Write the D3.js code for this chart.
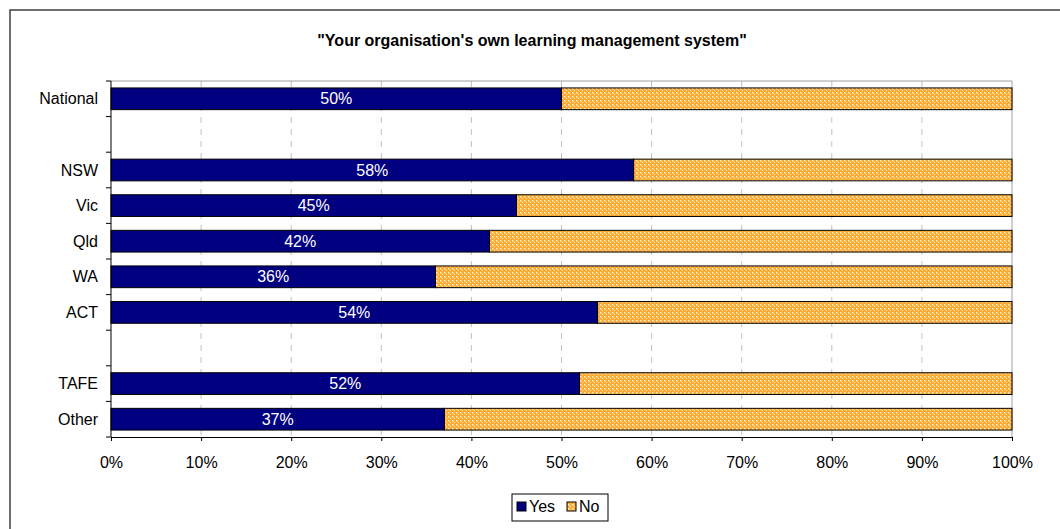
<!DOCTYPE html>
<html><head><meta charset="utf-8">
<script src="https://cdn.jsdelivr.net/npm/d3@7"></script>
<style>body{margin:0;background:#fff;} svg{display:block;font-family:"Liberation Sans",Arial,sans-serif;}</style>
</head><body>
<svg id="c" width="1060" height="529"></svg>
<script>
const categories = ["National", "", "NSW", "Vic", "Qld", "WA", "ACT", " ", "TAFE", "Other"];
const yesValues = [50, null, 58, 45, 42, 36, 54, null, 52, 37];
const xTicks = [0, 10, 20, 30, 40, 50, 60, 70, 80, 90, 100];
const title = "\"Your organisation's own learning management system\"";
const legendLabels = ["Yes", "No"];

const svg = d3.select("#c");
const defs = svg.append("defs");
const pat = defs.append("pattern").attr("id","nopat").attr("width",4).attr("height",4).attr("patternUnits","userSpaceOnUse");
pat.append("rect").attr("width",4).attr("height",4).attr("fill","#FFAA33");
pat.append("rect").attr("x",0).attr("y",0).attr("width",2).attr("height",2).attr("fill","#FFCC77");
pat.append("rect").attr("x",2).attr("y",2).attr("width",1).attr("height",1).attr("fill","#FFE8C0");
pat.append("rect").attr("x",0).attr("y",0).attr("width",1).attr("height",1).attr("fill","#FFF2DD");

// outer frame
svg.append("rect").attr("x",10).attr("y",10).attr("width",1070).attr("height",540)
  .attr("fill","none").attr("stroke","#404040").attr("stroke-width",1.5);

const L=111, R=1012, T=81, B=437;
const x = d3.scaleLinear().domain([0,100]).range([L,R]);
const y = d3.scaleBand().domain(categories).range([T,B]).paddingInner(0).paddingOuter(0);
const bh = y.bandwidth()*0.61;

svg.append("text").attr("x",532).attr("y",45.5).attr("text-anchor","middle")
  .attr("font-weight","bold").attr("font-size",16).text(title);

// gridlines
svg.append("g").selectAll("line").data(xTicks.slice(1,-1)).join("line")
  .attr("x1",d=>x(d)).attr("x2",d=>x(d)).attr("y1",T).attr("y2",B)
  .attr("stroke","#c0c0c0").attr("stroke-dasharray","6,6");
// plot border
svg.append("line").attr("x1",L).attr("x2",R).attr("y1",T).attr("y2",T).attr("stroke","#a0a0a0");
svg.append("line").attr("x1",R).attr("x2",R).attr("y1",T).attr("y2",B).attr("stroke","#a0a0a0");

const data = categories.map((c,i)=>({c, yes:yesValues[i]})).filter(d=>d.yes!=null);
const g = svg.append("g");
g.selectAll("rect.no").data(data).join("rect").attr("class","no")
  .attr("x",d=>x(d.yes)).attr("width",d=>x(100)-x(d.yes))
  .attr("y",d=>y(d.c)+(y.bandwidth()-bh)/2).attr("height",bh)
  .attr("fill","url(#nopat)").attr("stroke","#000").attr("stroke-width",1);
g.selectAll("rect.yes").data(data).join("rect").attr("class","yes")
  .attr("x",x(0)).attr("width",d=>x(d.yes)-x(0))
  .attr("y",d=>y(d.c)+(y.bandwidth()-bh)/2).attr("height",bh)
  .attr("fill","#000080").attr("stroke","#000").attr("stroke-width",1);
g.selectAll("text.lbl").data(data).join("text").attr("class","lbl")
  .attr("x",d=>(x(0)+x(d.yes))/2).attr("y",d=>y(d.c)+y.bandwidth()/2+5.5)
  .attr("text-anchor","middle").attr("fill","#fff").attr("font-size",16)
  .text(d=>d.yes+"%");

// axes
const xAxis = svg.append("g").attr("transform",`translate(0,${B})`)
  .call(d3.axisBottom(x).tickValues(xTicks).tickFormat(d=>d+"%").tickSize(4).tickSizeOuter(0));
xAxis.select(".domain").attr("stroke","#000");
xAxis.selectAll(".tick text").attr("font-size",16).attr("fill","#000").attr("y",30.5).attr("dy",null)
  .style("font-family","'Liberation Sans',Arial,sans-serif");

const yAxis = svg.append("g").attr("transform",`translate(${L},0)`);
yAxis.append("line").attr("x1",0).attr("x2",0).attr("y1",T).attr("y2",B).attr("stroke","#000");
const bounds = d3.range(categories.length+1).map(i=>T+i*y.step());
yAxis.selectAll("line.t").data(bounds).join("line").attr("class","t")
  .attr("x1",-5).attr("x2",0).attr("y1",d=>d).attr("y2",d=>d).attr("stroke","#000");
yAxis.selectAll("text").data(categories.filter(c=>c.trim()!=="")).join("text")
  .attr("x",-13).attr("y",d=>y(d)+y.bandwidth()/2+5.5).attr("text-anchor","end")
  .attr("font-size",16).text(d=>d);

// legend
const lg = svg.append("g");
lg.append("rect").attr("x",512).attr("y",494).attr("width",96).attr("height",27)
  .attr("fill","#fff").attr("stroke","#000");
lg.append("rect").attr("x",517).attr("y",502).attr("width",9).attr("height",9).attr("fill","#000080").attr("stroke","#000");
lg.append("text").attr("x",529).attr("y",512).attr("font-size",16).text(legendLabels[0]);
lg.append("rect").attr("x",567).attr("y",502).attr("width",9).attr("height",9).attr("fill","url(#nopat)").attr("stroke","#000");
lg.append("text").attr("x",579).attr("y",512).attr("font-size",16).text(legendLabels[1]);
</script>
</body></html>
